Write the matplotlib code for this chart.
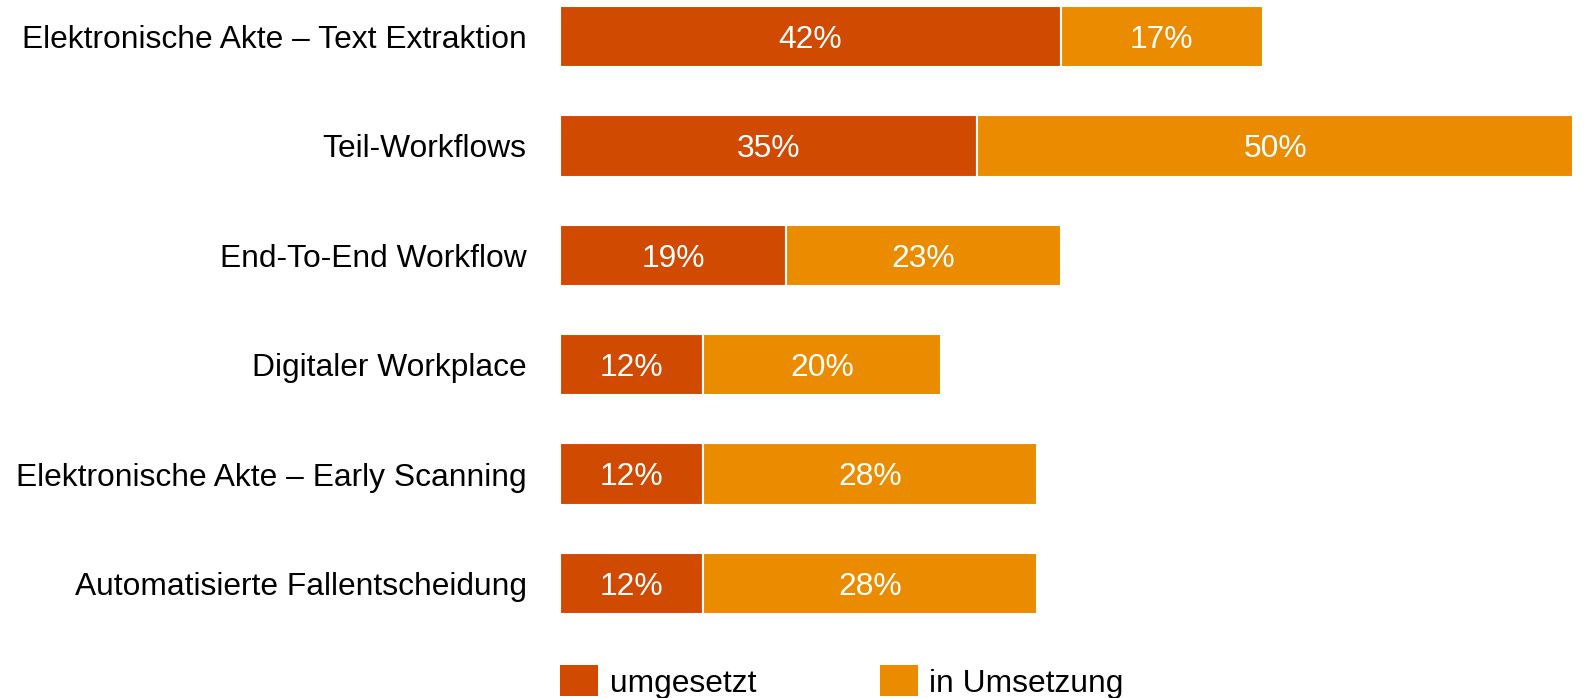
import matplotlib
matplotlib.use("Agg")
import matplotlib.pyplot as plt
from matplotlib.patches import Patch

plt.rcParams['font.family'] = ['Liberation Sans', 'DejaVu Sans']

categories = [
    "Elektronische Akte – Text Extraktion",
    "Teil-Workflows",
    "End-To-End Workflow",
    "Digitaler Workplace",
    "Elektronische Akte – Early Scanning",
    "Automatisierte Fallentscheidung",
]
umgesetzt = [42, 35, 19, 12, 12, 12]
in_umsetzung = [17, 50, 23, 20, 28, 28]
series_names = ["umgesetzt", "in Umsetzung"]
colors = ["#D04A02", "#EB8C00"]

W, H = 1588, 698
fig = plt.figure(figsize=(W / 100, H / 100), dpi=100)
ax = fig.add_axes([560 / W, 1 - 640 / H, (1573 - 560) / W, 640 / H])

fs = 22.85
y = list(range(len(categories)))
bar_h = 0.56
ax.barh(y, umgesetzt, height=bar_h, color=colors[0], edgecolor="white", linewidth=1.5)
ax.barh(y, in_umsetzung, left=umgesetzt, height=bar_h, color=colors[1],
        edgecolor="white", linewidth=1.5)

# centre the digits vertically on each segment
dy = -0.716 * fs / 2
for i in y:
    a, b = umgesetzt[i], in_umsetzung[i]
    ax.annotate(f"{a}%", (a / 2, i), xytext=(0, dy), textcoords="offset points",
                ha="center", va="baseline", color="white", fontsize=fs)
    ax.annotate(f"{b}%", (a + b / 2, i), xytext=(0, dy), textcoords="offset points",
                ha="center", va="baseline", color="white", fontsize=fs)

ax.set_xlim(0, 85)
ax.set_ylim(5.517, -0.334)
ax.set_yticks(y)
ax.set_yticklabels(categories, fontsize=fs)
ax.tick_params(axis="y", length=0, pad=24)
ax.tick_params(axis="x", bottom=False, labelbottom=False)
for s in ax.spines.values():
    s.set_visible(False)

handles = [Patch(facecolor=c, edgecolor="none") for c in colors]
fig.legend(handles, series_names, loc="center left", bbox_to_anchor=(560 / W, 1 - 682 / H),
           ncol=2, frameon=False, fontsize=fs, handlelength=1.2, handleheight=1.1,
           handletextpad=0.36, columnspacing=3.9, borderpad=0, borderaxespad=0)

fig.savefig("out.png", dpi=100)
